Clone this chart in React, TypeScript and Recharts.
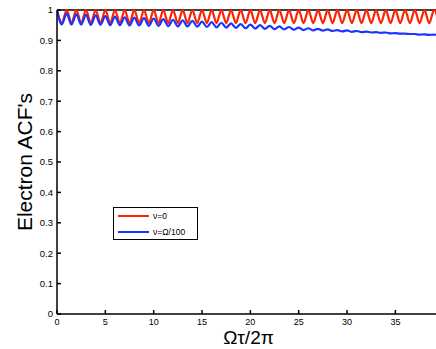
import React from 'react';
import { LineChart, Line, XAxis, YAxis, ReferenceLine, Legend, Label } from 'recharts';

const xValues: number[] = [
  0, 0.5, 1, 1.5, 2, 2.5, 3, 3.5, 4, 4.5, 5, 5.5, 6, 6.5, 7, 7.5, 8, 8.5, 9, 9.5,
  10, 10.5, 11, 11.5, 12, 12.5, 13, 13.5, 14, 14.5, 15, 15.5, 16, 16.5, 17, 17.5, 18, 18.5, 19, 19.5,
  20, 20.5, 21, 21.5, 22, 22.5, 23, 23.5, 24, 24.5, 25, 25.5, 26, 26.5, 27, 27.5, 28, 28.5, 29, 29.5,
  30, 30.5, 31, 31.5, 32, 32.5, 33, 33.5, 34, 34.5, 35, 35.5, 36, 36.5, 37, 37.5, 38, 38.5, 39, 39.5,
];

const nu0: number[] = [
  1, 0.957, 1, 0.957, 1, 0.957, 1, 0.957, 1, 0.957, 1, 0.957, 1, 0.957, 1, 0.957, 1, 0.957, 1, 0.957,
  1, 0.957, 1, 0.957, 1, 0.957, 1, 0.957, 1, 0.957, 1, 0.957, 1, 0.957, 1, 0.957, 1, 0.957, 1, 0.957,
  1, 0.957, 1, 0.957, 1, 0.957, 1, 0.957, 1, 0.957, 1, 0.957, 1, 0.957, 1, 0.957, 1, 0.957, 1, 0.957,
  1, 0.957, 1, 0.957, 1, 0.957, 1, 0.957, 1, 0.957, 1, 0.957, 1, 0.957, 1, 0.957, 1, 0.957, 1, 0.957,
];

const nu100: number[] = [
  1, 0.953, 0.988, 0.952, 0.986, 0.952, 0.984, 0.951, 0.982, 0.951, 0.980, 0.950, 0.978, 0.950, 0.976, 0.949, 0.975, 0.949, 0.973, 0.948,
  0.972, 0.948, 0.970, 0.947, 0.968, 0.946, 0.966, 0.946, 0.964, 0.945, 0.962, 0.944, 0.960, 0.943, 0.958, 0.942, 0.956, 0.941, 0.954, 0.940,
  0.952, 0.939, 0.950, 0.938, 0.948, 0.937, 0.946, 0.936, 0.944, 0.935, 0.942, 0.934, 0.940, 0.933, 0.938, 0.932, 0.936, 0.931, 0.934, 0.930,
  0.933, 0.928, 0.931, 0.927, 0.929, 0.926, 0.927, 0.925, 0.926, 0.923, 0.924, 0.922, 0.922, 0.921, 0.921, 0.919, 0.920, 0.918, 0.919, 0.917,
];

const xTicks = [0, 5, 10, 15, 20, 25, 30, 35];
const yTicks = [0, 0.1, 0.2, 0.3, 0.4, 0.5, 0.6, 0.7, 0.8, 0.9, 1];
const seriesNames = ['ν=0', 'ν=Ω/100'];
const colors = ['#ff2200', '#1a33ff'];

const data = xValues.map((x, i) => ({ x, a: nu0[i], b: nu100[i] }));

const FONT = '"Liberation Sans", Arial, Helvetica, sans-serif';

const LegendBox = () => (
  <div
    style={{
      position: 'relative',
      border: '1px solid #000',
      background: '#fff',
      width: 85,
      height: 33,
      boxSizing: 'border-box',
      fontFamily: FONT,
      fontSize: 8.5,
    }}
  >
    {seriesNames.map((n, i) => (
      <div
        key={n}
        style={{
          position: 'absolute',
          left: 4,
          top: 2 + i * 16,
          display: 'flex',
          alignItems: 'center',
          height: 12,
          whiteSpace: 'nowrap',
        }}
      >
        <div style={{ width: 31, height: 2, background: colors[i], marginRight: 4 }} />
        <span>{n}</span>
      </div>
    ))}
  </div>
);

export default function App() {
  return (
    <div style={{ position: 'absolute', left: 0, top: 0, background: '#fff' }}>
      <LineChart
        width={436}
        height={349}
        data={data}
        margin={{ top: 10, right: 0, bottom: 0, left: 0 }}
        style={{ fontFamily: FONT }}
      >
        <XAxis
          dataKey="x"
          type="number"
          domain={[0, 39.2]}
          allowDataOverflow
          ticks={xTicks}
          height={35}
          tickSize={-4}
          tickMargin={9}
          stroke="#000"
          strokeWidth={1.5}
          tick={{ fill: '#000', fontSize: 9 }}
        >
          <Label value="Ωτ/2π" position="center" dx={2} dy={6} style={{ fontSize: 19, fill: '#000' }} />
        </XAxis>
        <YAxis
          type="number"
          domain={[0, 1]}
          ticks={yTicks}
          width={57}
          tickSize={-4}
          tickMargin={8}
          stroke="#000"
          strokeWidth={1.5}
          tick={{ fill: '#000', fontSize: 9.5 }}
        >
          <Label
            value="Electron ACF's"
            angle={-90}
            position="center"
            dx={-4}
            dy={0}
            style={{ fontSize: 21, fill: '#000' }}
          />
        </YAxis>
        <ReferenceLine y={1} stroke="#000" strokeWidth={1.5} />
        <Legend
          layout="vertical"
          align="center"
          verticalAlign="middle"
          content={<LegendBox />}
          wrapperStyle={{ position: 'absolute', left: 113, top: 207, width: 85, height: 33 }}
        />
        <Line
          type="monotone"
          dataKey="a"
          name={seriesNames[0]}
          stroke={colors[0]}
          strokeWidth={2.2}
          dot={false}
          isAnimationActive={false}
        />
        <Line
          type="monotone"
          dataKey="b"
          name={seriesNames[1]}
          stroke={colors[1]}
          strokeWidth={2.2}
          dot={false}
          isAnimationActive={false}
        />
      </LineChart>
    </div>
  );
}
